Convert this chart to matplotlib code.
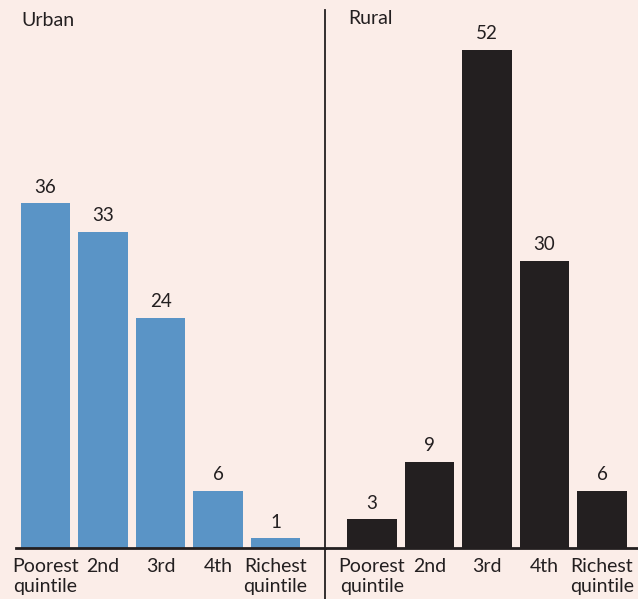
import matplotlib.pyplot as plt

# data
labels = ['Poorest\nquintile', '2nd', '3rd', '4th', 'Richest\nquintile']
urban = [36, 33, 24, 6, 1]
rural = [3, 9, 52, 30, 6]

bg = '#fbede8'
blue = '#5a94c6'
dark = '#231f20'

plt.rcParams['font.family'] = ['Lato', 'DejaVu Sans']

W, H = 638, 599
fig = plt.figure(figsize=(W / 100, H / 100), dpi=100)
fig.patch.set_facecolor(bg)

base_y = 548
top_y = 10
pitch = 57.5
ymax = 52 * (base_y - top_y) / (548 - 50)


def panel(x0, x1, c0, vals, color):
    ax = fig.add_axes([x0 / W, 1 - base_y / H, (x1 - x0) / W, (base_y - top_y) / H])
    ax.set_facecolor(bg)
    ax.set_xlim((x0 - c0) / pitch, (x1 - c0) / pitch)
    ax.set_ylim(0, ymax)
    xs = range(len(vals))
    ax.bar(xs, vals, width=0.855, color=color, zorder=2)
    for x, v in zip(xs, vals):
        ax.text(x, v + 0.8, str(v), ha='center', va='bottom', fontsize=13.5, color=dark)
    for s in ['top', 'right', 'left']:
        ax.spines[s].set_visible(False)
    ax.spines['bottom'].set_linewidth(2)
    ax.spines['bottom'].set_color(dark)
    ax.set_yticks([])
    ax.set_xticks(list(xs))
    ax.set_xticklabels(labels, fontsize=14, color=dark, linespacing=1.2, va='top')
    ax.tick_params(axis='x', length=0, pad=7)
    return ax


ax1 = panel(16, 325, 45.5, urban, blue)
ax2 = panel(325, 638, 372, rural, dark)

fig.text(21 / W, 1 - 20 / H, 'Urban', fontsize=14, color=dark, va='center', ha='left')
fig.text(348 / W, 1 - 19 / H, 'Rural', fontsize=14, color=dark, va='center', ha='left')

# divider line
fig.add_artist(plt.Line2D([325 / W, 325 / W], [0, 1 - 10 / H], color=dark, lw=1.3))

fig.savefig('out.png', dpi=100, facecolor=bg)
